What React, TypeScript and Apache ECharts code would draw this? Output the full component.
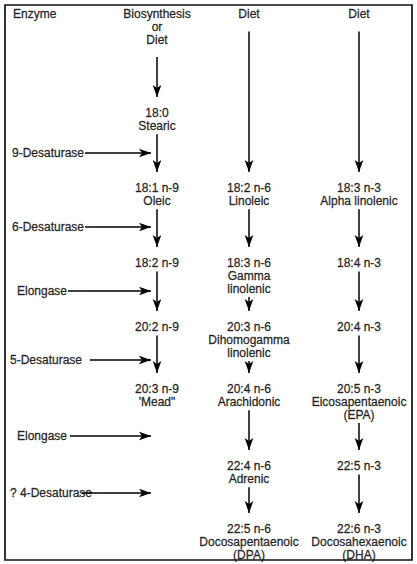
import { useEffect, useRef } from "react";
import * as echarts from "echarts";

// ---------------- data ----------------
const columnHeaders = ["Enzyme", "Biosynthesis\nor\nDiet", "Diet", "Diet"];

// omega-9 pathway (biosynthesis or diet)
const n9Labels = ["18:0\nStearic", "18:1 n-9\nOleic", "18:2 n-9", "20:2 n-9", "20:3 n-9\n'Mead\""];
const n9Steps = [1, 2, 3, 4, 5];

// omega-6 pathway (diet)
const n6Labels = [
  "18:2 n-6\nLinoleic",
  "18:3 n-6\nGamma\nlinolenic",
  "20:3 n-6\nDihomogamma\nlinolenic",
  "20:4 n-6\nArachidonic",
  "22:4 n-6\nAdrenic",
  "22:5 n-6\nDocosapentaenoic\n(DPA)",
];
const n6Steps = [2, 3, 4, 5, 6, 7];

// omega-3 pathway (diet)
const n3Labels = [
  "18:3 n-3\nAlpha linolenic",
  "18:4 n-3",
  "20:4 n-3",
  "20:5 n-3\nEicosapentaenoic\n(EPA)",
  "22:5 n-3",
  "22:6 n-3\nDocosahexaenoic\n(DHA)",
];
const n3Steps = [2, 3, 4, 5, 6, 7];

// enzymes acting between step k and k+1 (index 0 acts between step 1 and 2)
const enzymeLabels = ["9-Desaturase", "6-Desaturase", "Elongase", "5-Desaturase", "Elongase", "? 4-Desaturase"];

// ---------------- layout (not data) ----------------
const FRAME = { left: 5, top: 5, right: 412, bottom: 560 };
const COLUMN_X = [13, 157, 249, 359];
const STEP_Y = [14, 113, 188, 263, 327, 389, 466, 529];
const ENZYME_Y = [153, 227, 291, 360, 436, 493];
const ENZYME_TEXT_LEFT = [12, 12, 17, 10, 17, 10];
const ENZYME_ARROW_FROM = [85, 85, 68, 90, 70, 82];
const LINE_H = 12.8;
const FONT = 12;
const HEAD_LEN = 12;
const HEAD_W = 6.5;
const GAP_BELOW_TEXT = 8.5;
const GAP_BEFORE_TEXT = 10;
const GAP_BELOW_HEADER = 17.5;

const lineCount = (s: string) => s.split("\n").length;

export default function App() {
  const ref = useRef<HTMLDivElement>(null);

  useEffect(() => {
    if (!ref.current) return;
    const chart = echarts.init(ref.current, null, { renderer: "svg" });

    const textItems: any[] = [];
    const shafts: any[] = [];
    const heads: any[] = [];

    const addText = (text: string, x: number, firstY: number, align: string) => {
      const n = lineCount(text);
      textItems.push({
        value: [x, firstY + ((n - 1) * LINE_H) / 2],
        text,
        label: { align },
      });
    };

    const addArrow = (x1: number, y1: number, x2: number, y2: number) => {
      const dx = x2 - x1;
      const dy = y2 - y1;
      const len = Math.hypot(dx, dy);
      const ux = dx / len;
      const uy = dy / len;
      shafts.push({ coords: [[x1, y1], [x2 - ux * (HEAD_LEN * 0.5), y2 - uy * (HEAD_LEN * 0.5)]] });
      // symbol points up by default; rotation counter-clockwise in degrees
      const angle = (Math.atan2(-uy, ux) * 180) / Math.PI - 90;
      heads.push({
        value: [x2 - ux * (HEAD_LEN / 2), y2 - uy * (HEAD_LEN / 2)],
        symbolRotate: angle,
      });
    };

    // headers
    columnHeaders.forEach((h, c) => {
      addText(h, COLUMN_X[c], STEP_Y[0], c === 0 ? "left" : "center");
    });

    const pathways = [
      { col: 1, labels: n9Labels, steps: n9Steps },
      { col: 2, labels: n6Labels, steps: n6Steps },
      { col: 3, labels: n3Labels, steps: n3Steps },
    ];

    pathways.forEach(({ col, labels, steps }) => {
      const x = COLUMN_X[col];
      labels.forEach((lab, i) => addText(lab, x, STEP_Y[steps[i]], "center"));
      // header -> first node
      const headerLast = STEP_Y[0] + (lineCount(columnHeaders[col]) - 1) * LINE_H;
      addArrow(x, headerLast + GAP_BELOW_HEADER, x, STEP_Y[steps[0]] - GAP_BEFORE_TEXT);
      for (let i = 0; i < labels.length - 1; i++) {
        const last = STEP_Y[steps[i]] + (lineCount(labels[i]) - 1) * LINE_H;
        addArrow(x, last + GAP_BELOW_TEXT, x, STEP_Y[steps[i + 1]] - GAP_BEFORE_TEXT);
      }
    });

    enzymeLabels.forEach((e, k) => {
      addText(e, ENZYME_TEXT_LEFT[k], ENZYME_Y[k], "left");
      addArrow(ENZYME_ARROW_FROM[k], ENZYME_Y[k], COLUMN_X[1], ENZYME_Y[k]);
    });

    chart.setOption({
      animation: false,
      backgroundColor: "#ffffff",
      grid: {
        left: FRAME.left,
        top: FRAME.top,
        width: FRAME.right - FRAME.left,
        height: FRAME.bottom - FRAME.top,
        show: true,
        borderColor: "#111",
        borderWidth: 1.7,
        backgroundColor: "transparent",
      },
      xAxis: { type: "value", min: FRAME.left, max: FRAME.right, show: false },
      yAxis: { type: "value", min: FRAME.top, max: FRAME.bottom, inverse: true, show: false },
      series: [
        {
          type: "lines",
          coordinateSystem: "cartesian2d",
          data: shafts,
          symbol: "none",
          silent: true,
          lineStyle: { color: "#000", width: 1.5, opacity: 1, curveness: 0 },
        },
        {
          type: "scatter",
          data: heads,
          symbol: "arrow",
          symbolSize: [HEAD_W, HEAD_LEN],
          silent: true,
          itemStyle: { color: "#000", opacity: 1 },
        },
        {
          type: "scatter",
          data: textItems,
          symbolSize: 0.1,
          silent: true,
          itemStyle: { color: "rgba(0,0,0,0)" },
          label: {
            show: true,
            position: "inside",
            formatter: (p: any) => p.data.text,
            color: "#000",
            fontSize: FONT,
            fontFamily: "'Liberation Sans', Arial, sans-serif",
            lineHeight: LINE_H,
            verticalAlign: "middle",
            textBorderColor: "#000",
            textBorderWidth: 0.35,
          },
        },
      ],
    });

    return () => chart.dispose();
  }, []);

  return (
    <div
      ref={ref}
      style={{ position: "fixed", left: 0, top: 0, width: 417, height: 564, background: "#fff" }}
    />
  );
}
